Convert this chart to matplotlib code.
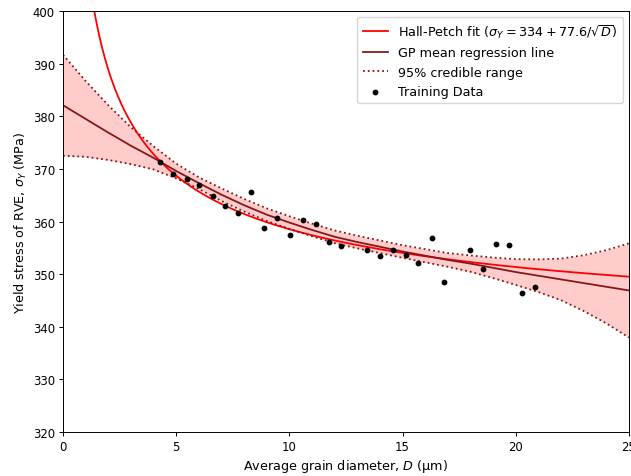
import numpy as np
import matplotlib.pyplot as plt

# Training data (grain diameter in um, yield stress in MPa)
d_train = [4.28, 4.85, 5.47, 6.00, 6.61, 7.14, 7.72, 8.29, 8.86, 9.44,
           10.01, 10.58, 11.16, 11.73, 12.30, 13.45, 14.02, 14.59, 15.17, 15.70,
           16.31, 16.84, 17.99, 18.56, 19.14, 19.71, 20.28, 20.86]
s_train = [371.3, 369.0, 368.1, 366.9, 364.8, 362.9, 361.6, 365.6, 358.8, 360.7,
           357.4, 360.3, 359.5, 356.1, 355.3, 354.6, 353.4, 354.6, 353.6, 352.1,
           356.9, 348.5, 354.6, 351.0, 355.7, 355.5, 346.4, 347.6]

# GP mean line and 95% credible range
d_gp = list(range(0, 26))
gp_mean = [382.1, 379.5, 376.9, 374.4, 372.1, 369.6, 367.3, 365.1, 363.1, 361.3,
           359.8, 358.4, 357.1, 356.1, 355.2, 354.3, 353.5, 352.7, 352.0, 351.2,
           350.4, 349.7, 349.0, 348.3, 347.6, 346.9]
gp_upper = [391.7, 386.7, 382.1, 377.9, 374.3, 371.0, 368.4, 366.3, 364.3, 362.5,
            361.0, 359.6, 358.3, 357.3, 356.4, 355.5, 354.75, 354.0, 353.55, 353.15,
            352.85, 352.8, 352.95, 353.6, 354.55, 355.85]
gp_lower = [372.5, 372.3, 371.7, 370.9, 369.9, 368.2, 366.2, 363.9, 361.9, 360.1,
            358.6, 357.2, 355.9, 354.9, 354.0, 353.1, 352.25, 351.4, 350.45, 349.25,
            347.95, 346.6, 345.05, 343.0, 340.65, 337.95]

# Hall-Petch fit coefficients (from legend)
hp_a = 334
hp_b = 77.6

# the reference looks like a scaled-down figure, so shrink everything a bit
plt.rcParams.update({
    'font.size': 8.4,
    'axes.linewidth': 0.7,
    'xtick.major.width': 0.7,
    'ytick.major.width': 0.7,
    'xtick.major.size': 3,
    'ytick.major.size': 3,
    'xtick.major.pad': 2.8,
    'ytick.major.pad': 2.8,
})

fig = plt.figure(figsize=(6.31, 4.77), dpi=100)
ax = fig.add_axes([0.0998, 0.0922, 0.897, 0.8826])

d_hp = np.linspace(1.0, 25, 400)
ax.plot(d_hp, hp_a + hp_b / np.sqrt(d_hp), color='red', lw=1.3,
        label=r'Hall-Petch fit ($\sigma_Y = 334 + 77.6/\sqrt{D}$)')
ax.plot(d_gp, gp_mean, color='#861818', lw=1.3, label='GP mean regression line')
ax.fill_between(d_gp, gp_lower, gp_upper, color='red', alpha=0.2, lw=0)
ax.plot(d_gp, gp_upper, color='#861818', lw=1.3, ls=':', label='95% credible range')
ax.plot(d_gp, gp_lower, color='#861818', lw=1.3, ls=':')
ax.scatter(d_train, s_train, color='black', s=10, zorder=5, label='Training Data')

ax.set_xlim(0, 25)
ax.set_ylim(320, 400)
ax.set_xlabel(r'Average grain diameter, $D$ (μm)', fontsize=9.2, labelpad=2.5)
ax.set_ylabel(r'Yield stress of RVE, $\sigma_Y$ (MPa)', fontsize=9.2, labelpad=3)
ax.legend(loc='upper right', scatterpoints=1, fontsize=9.2, borderaxespad=0.45)

fig.savefig('out.png', dpi=100)
